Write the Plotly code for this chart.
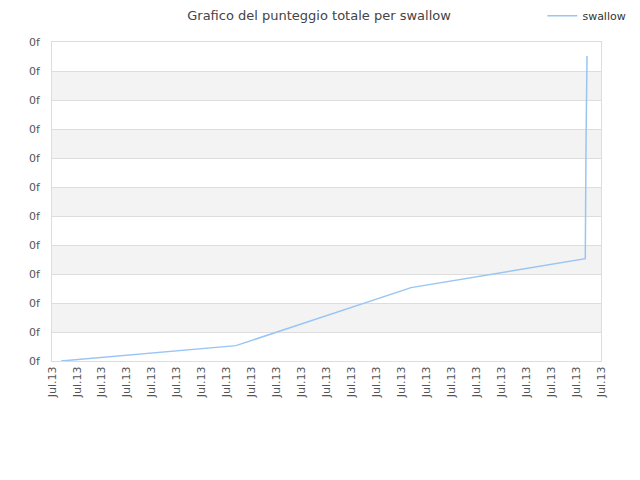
import plotly.graph_objects as go

# dati
x_pos = [0.36, 7.37, 14.39, 21.37, 21.40, 21.44]
punteggio = [0.0, 0.53, 2.53, 3.53, 7.53, 10.52]

x_ticks = list(range(23))
x_labels = ["Jul.13"] * 23
y_ticks = list(range(12))
y_labels = ["0f"] * 12

fig = go.Figure()
fig.add_trace(go.Scatter(
    x=x_pos, y=punteggio, mode="lines", name="swallow",
    line=dict(color="#99c5f4", width=1.5),
))

# bande alternate di sfondo
for k in range(1, 11, 2):
    fig.add_shape(type="rect", xref="paper", yref="y", x0=0, x1=1, y0=k, y1=k + 1,
                  fillcolor="#f3f3f3", line_width=0, layer="below")

fig.update_layout(
    width=640, height=480,
    margin=dict(l=44, r=47, t=34, b=127, autoexpand=False),
    paper_bgcolor="white", plot_bgcolor="white",
    font=dict(family="DejaVu Sans", size=11, color="#555"),
    title=dict(text="Grafico del punteggio totale per swallow", x=0.486, xref="container",
               y=0.984, yanchor="middle", font=dict(size=13, color="#444")),
    showlegend=True,
    legend=dict(x=0.835, y=0.984, xref="container", yref="container",
                xanchor="left", yanchor="middle",
                font=dict(size=11, color="#333"), bgcolor="rgba(0,0,0,0)"),
)
fig.update_xaxes(range=[0, 22], tickvals=x_ticks, ticktext=x_labels, tickangle=-90,
                 showgrid=False, zeroline=False, showline=True, mirror=True, automargin=False,
                 linecolor="#dddddd", ticks="", tickfont=dict(size=11, color="#555"))
fig.update_yaxes(range=[0, 11], tickvals=y_ticks, ticktext=y_labels, automargin=False,
                 ticklabelstandoff=9,
                 showgrid=True, gridcolor="#dddddd", zeroline=False, showline=True,
                 mirror=True, linecolor="#dddddd", ticks="", tickfont=dict(size=11, color="#555"))

fig.write_html("out.html")
